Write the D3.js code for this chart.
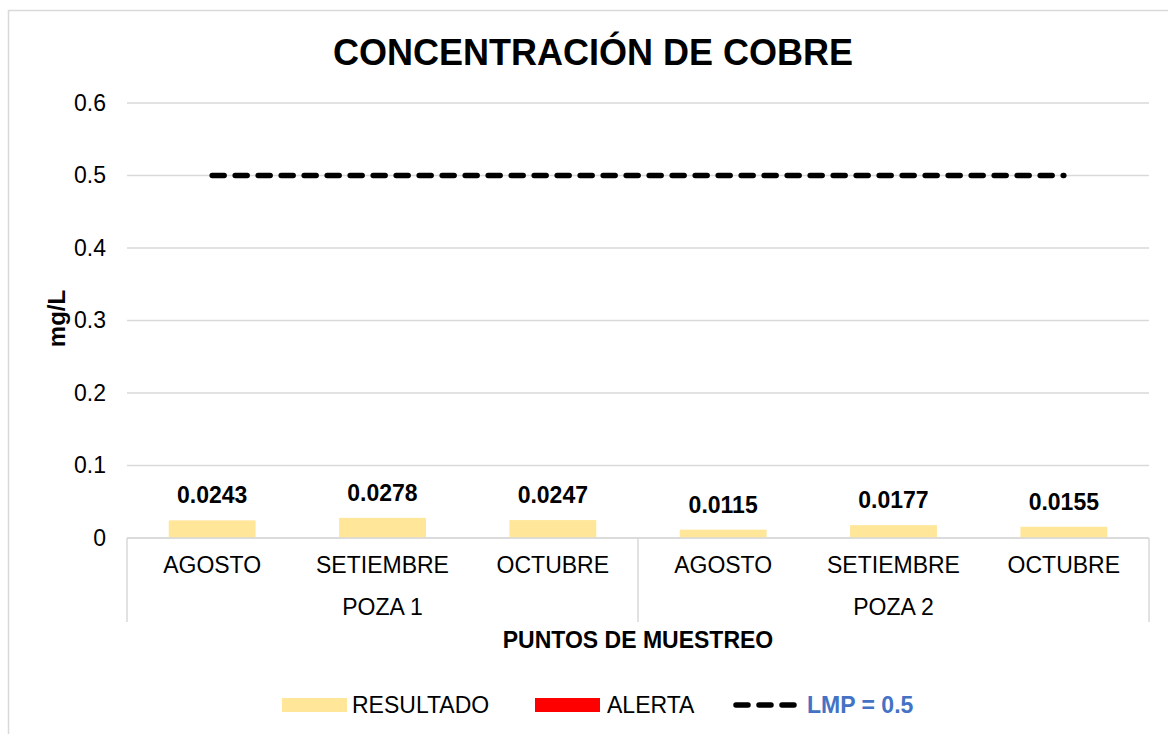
<!DOCTYPE html>
<html>
<head>
<meta charset="utf-8">
<script src="https://cdn.jsdelivr.net/npm/d3@7"></script>
<style>
  body { margin: 0; background: #fff; font-family: "Liberation Sans", Arial, sans-serif; }
</style>
</head>
<body>
<div id="chart"></div>
<script>
// data
var groups = ["POZA 1", "POZA 2"];
var months = ["AGOSTO", "SETIEMBRE", "OCTUBRE"];
var resultado = [0.0243, 0.0278, 0.0247, 0.0115, 0.0177, 0.0155];
var labels = ["0.0243", "0.0278", "0.0247", "0.0115", "0.0177", "0.0155"];
var lmp = 0.5;
var yTicks = [0, 0.1, 0.2, 0.3, 0.4, 0.5, 0.6];

var W = 1168, H = 734;
var margin = {top: 103, right: 19, bottom: 196, left: 127};
var width = W - margin.left - margin.right,
    height = H - margin.top - margin.bottom;

var svg = d3.select("#chart").append("svg")
    .attr("width", W)
    .attr("height", H);

// chart border
svg.append("rect")
    .attr("x", 8.5).attr("y", 10.5)
    .attr("width", W + 10).attr("height", H + 10)
    .attr("fill", "none")
    .attr("stroke", "#d9d9d9")
    .attr("stroke-width", 1.5);

var g = svg.append("g")
    .attr("transform", "translate(" + margin.left + "," + margin.top + ")");

var cats = [];
groups.forEach(function(gr) {
  months.forEach(function(m) { cats.push(gr + "|" + m); });
});

var x = d3.scaleBand().domain(cats).range([0, width]).paddingInner(0.49).paddingOuter(0.245);
var xo = d3.scaleBand().domain(cats).range([0, width]);
var y = d3.scaleLinear().domain([0, 0.6]).range([height, 0]);

// grid lines
g.selectAll(".grid")
  .data(yTicks)
  .enter().append("line")
    .attr("x1", 0).attr("x2", width)
    .attr("y1", function(d) { return y(d); })
    .attr("y2", function(d) { return y(d); })
    .attr("stroke", "#d9d9d9")
    .attr("stroke-width", 1.5);

// y axis labels
var yAxis = g.append("g")
    .call(d3.axisLeft(y).tickValues(yTicks).tickSize(0).tickPadding(21)
      .tickFormat(function(d) { return d === 0 ? "0" : d3.format(".1f")(d); }));
yAxis.select(".domain").remove();
yAxis.selectAll("text")
    .attr("font-family", "Liberation Sans, Arial, sans-serif")
    .attr("font-size", 23).attr("fill", "#000");

// bars
g.selectAll(".bar")
  .data(resultado)
  .enter().append("rect")
    .attr("class", "bar")
    .attr("x", function(d, i) { return x(cats[i]); })
    .attr("width", x.bandwidth())
    .attr("y", function(d) { return y(d); })
    .attr("height", function(d) { return height - y(d); })
    .attr("fill", "#FFE699");

// value labels
g.selectAll(".val")
  .data(resultado)
  .enter().append("text")
    .attr("x", function(d, i) { return x(cats[i]) + x.bandwidth() / 2; })
    .attr("y", function(d) { return y(d) - 17; })
    .attr("text-anchor", "middle")
    .attr("font-size", 23).attr("font-weight", "bold")
    .text(function(d, i) { return labels[i]; });

// LMP dashed line
var line = d3.line()
    .x(function(d) { return xo(d) + xo.bandwidth() / 2; })
    .y(function() { return y(lmp); });
g.append("path")
    .datum([cats[0], cats[cats.length - 1]])
    .attr("d", line)
    .attr("fill", "none")
    .attr("stroke", "#000")
    .attr("stroke-width", 5.5)
    .attr("stroke-linecap", "round")
    .attr("stroke-dasharray", "12,11");

// x axis: baseline and group separators
g.append("line")
    .attr("x1", 0).attr("x2", width)
    .attr("y1", height).attr("y2", height)
    .attr("stroke", "#d9d9d9").attr("stroke-width", 1.5);

var seps = [0, xo(cats[3]), width];
g.selectAll(".sep")
  .data(seps)
  .enter().append("line")
    .attr("x1", function(d) { return d; }).attr("x2", function(d) { return d; })
    .attr("y1", height).attr("y2", height + 84)
    .attr("stroke", "#d9d9d9").attr("stroke-width", 1.5);

g.selectAll(".mlab")
  .data(cats)
  .enter().append("text")
    .attr("x", function(d) { return xo(d) + xo.bandwidth() / 2; })
    .attr("y", height + 35)
    .attr("text-anchor", "middle")
    .attr("font-size", 23)
    .text(function(d) { return d.split("|")[1]; });

g.selectAll(".glab")
  .data(groups)
  .enter().append("text")
    .attr("x", function(d, i) { return xo(cats[i * 3 + 1]) + xo.bandwidth() / 2; })
    .attr("y", height + 77)
    .attr("text-anchor", "middle")
    .attr("font-size", 23)
    .text(function(d) { return d; });

// axis titles
g.append("text")
    .attr("x", width / 2).attr("y", height + 110)
    .attr("text-anchor", "middle")
    .attr("font-size", 23).attr("font-weight", "bold")
    .text("PUNTOS DE MUESTREO");

svg.append("text")
    .attr("transform", "translate(65," + (margin.top + y(0.3) - 2) + ") rotate(-90)")
    .attr("text-anchor", "middle")
    .attr("font-size", 24).attr("font-weight", "bold")
    .text("mg/L");

// title
svg.append("text")
    .attr("x", 593).attr("y", 65)
    .attr("text-anchor", "middle")
    .attr("font-size", 36).attr("font-weight", "bold")
    .text("CONCENTRACIÓN DE COBRE");

// legend
var lg = svg.append("g").attr("transform", "translate(0,705)");
lg.append("rect").attr("x", 282).attr("y", -7).attr("width", 65).attr("height", 14).attr("fill", "#FFE699");
lg.append("text").attr("x", 352).attr("y", 8).attr("font-size", 23).text("RESULTADO");
lg.append("rect").attr("x", 535).attr("y", -7).attr("width", 65).attr("height", 14).attr("fill", "#FF0000");
lg.append("text").attr("x", 607).attr("y", 8).attr("font-size", 23).text("ALERTA");
lg.append("line").attr("x1", 736).attr("x2", 794).attr("y1", 0).attr("y2", 0)
    .attr("stroke", "#000").attr("stroke-width", 5.5).attr("stroke-linecap", "round")
    .attr("stroke-dasharray", "12,11");
lg.append("text").attr("x", 807).attr("y", 8).attr("font-size", 23).attr("font-weight", "bold")
    .attr("fill", "#4472C4").text("LMP = 0.5");
</script>
</body>
</html>
